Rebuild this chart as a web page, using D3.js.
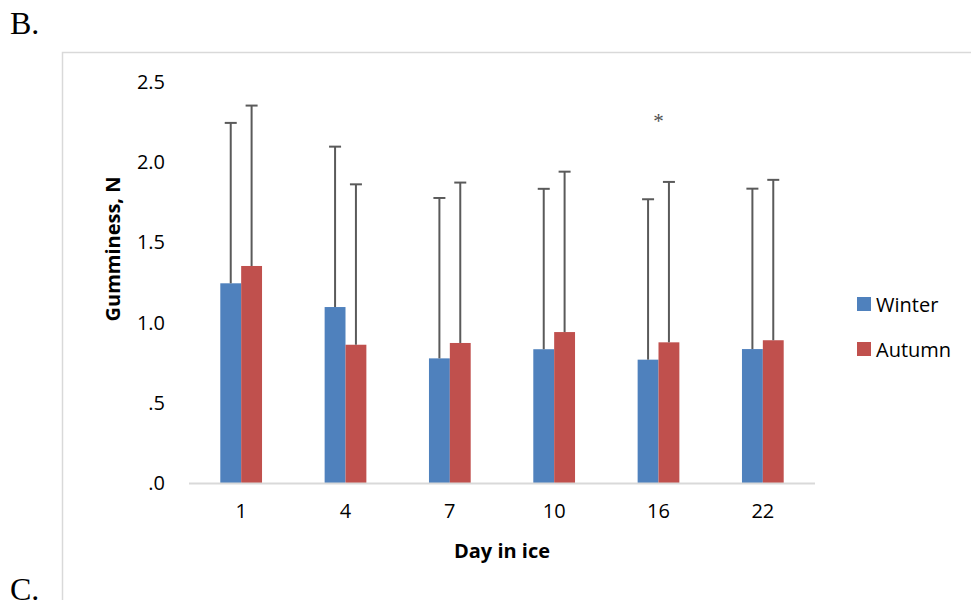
<!DOCTYPE html>
<html>
<head>
<meta charset="utf-8">
<script src="https://cdn.jsdelivr.net/npm/d3@7"></script>
<style>
  body { margin: 0; background: #fff; }
  svg { display: block; }
</style>
</head>
<body>
<svg id="chart" width="971" height="600"></svg>
<script>
// Data
const days = ['1', '4', '7', '10', '16', '22'];
const seriesNames = ['Winter', 'Autumn'];
const winter = [1.245, 1.097, 0.777, 0.834, 0.769, 0.835];
const autumn = [1.353, 0.862, 0.873, 0.941, 0.877, 0.890];
const winterErr = [1.00, 1.00, 1.00, 1.00, 1.00, 1.00];
const autumnErr = [1.00, 1.00, 1.00, 1.00, 1.00, 1.00];
const yTicks = [0, 0.5, 1.0, 1.5, 2.0, 2.5];
const yTickLabels = ['.0', '.5', '1.0', '1.5', '2.0', '2.5'];
const starDay = '16';

const colors = ['#4F81BD', '#C0504D'];
const font = '"Open Sans", "Noto Sans", sans-serif';
const fs = 20;

const svg = d3.select('#chart');

// outer frame of the chart object (runs off the page right and bottom)
svg.append('rect')
    .attr('x', 62.5).attr('y', 52.5)
    .attr('width', 1000).attr('height', 1000)
    .attr('fill', 'none')
    .attr('stroke', '#d9d9d9')
    .attr('stroke-width', 1.5);

// panel letters
svg.append('text').attr('x', 10).attr('y', 34)
    .attr('font-family', '"Liberation Serif", "DejaVu Serif", serif')
    .attr('font-size', 32).attr('fill', '#000').text('B.');
svg.append('text').attr('x', 10).attr('y', 600)
    .attr('font-family', '"Liberation Serif", "DejaVu Serif", serif')
    .attr('font-size', 32).attr('fill', '#000').text('C.');

// scales
const x = d3.scaleBand().domain(days).range([189, 815])
    .paddingInner(0.6).paddingOuter(0.3);
const xs = d3.scaleBand().domain(seriesNames).range([0, x.bandwidth()]);
const y = d3.scaleLinear().domain([0, 2.5]).range([483, 82]);

// y tick labels (no gridlines, no axis line)
const yAxis = d3.axisLeft(y).tickValues(yTicks)
    .tickFormat((d, i) => yTickLabels[i]).tickSize(0).tickPadding(0);
const gy = svg.append('g').attr('transform', 'translate(165,0)').call(yAxis);
gy.select('.domain').remove();
gy.selectAll('text').attr('font-family', font).attr('font-size', fs).attr('fill', '#000');

// bars
const rows = days.map((d, i) => ({
    day: d,
    vals: [
        { s: 'Winter', v: winter[i], e: winterErr[i], c: colors[0] },
        { s: 'Autumn', v: autumn[i], e: autumnErr[i], c: colors[1] }
    ]
}));

const groups = svg.append('g').selectAll('g').data(rows).join('g')
    .attr('transform', d => `translate(${x(d.day)},0)`);

groups.selectAll('rect').data(d => d.vals).join('rect')
    .attr('x', d => xs(d.s))
    .attr('y', d => y(d.v))
    .attr('width', xs.bandwidth())
    .attr('height', d => y(0) - y(d.v))
    .attr('fill', d => d.c);

// plus-only error bars
const errCol = '#5a5a5a';
groups.selectAll('line.err').data(d => d.vals).join('line')
    .attr('class', 'err')
    .attr('x1', d => xs(d.s) + xs.bandwidth() / 2)
    .attr('x2', d => xs(d.s) + xs.bandwidth() / 2)
    .attr('y1', d => y(d.v))
    .attr('y2', d => y(d.v + d.e))
    .attr('stroke', errCol).attr('stroke-width', 2);
groups.selectAll('line.cap').data(d => d.vals).join('line')
    .attr('class', 'cap')
    .attr('x1', d => xs(d.s) + xs.bandwidth() / 2 - 6)
    .attr('x2', d => xs(d.s) + xs.bandwidth() / 2 + 6)
    .attr('y1', d => y(d.v + d.e))
    .attr('y2', d => y(d.v + d.e))
    .attr('stroke', errCol).attr('stroke-width', 2);

// baseline + x tick labels
svg.append('line')
    .attr('x1', 189).attr('x2', 815)
    .attr('y1', y(0) + 0.5).attr('y2', y(0) + 0.5)
    .attr('stroke', '#d9d9d9').attr('stroke-width', 2);
const xAxis = d3.axisBottom(x).tickSize(0).tickPadding(0);
const gx = svg.append('g').attr('transform', `translate(0,${y(0) + 21})`).call(xAxis);
gx.select('.domain').remove();
gx.selectAll('text').attr('font-family', font).attr('font-size', fs).attr('fill', '#000');

// significance mark
svg.append('text')
    .attr('x', x(starDay) + x.bandwidth() / 2)
    .attr('y', 128)
    .attr('text-anchor', 'middle')
    .attr('font-family', '"Liberation Serif", serif')
    .attr('font-size', 21).attr('fill', '#505050')
    .text('*');

// axis titles
svg.append('text')
    .attr('transform', 'translate(120,249) rotate(-90)')
    .attr('text-anchor', 'middle')
    .attr('font-family', font).attr('font-weight', 'bold')
    .attr('font-size', fs).attr('fill', '#000')
    .text('Gumminess, N');
svg.append('text')
    .attr('x', 502).attr('y', 558)
    .attr('text-anchor', 'middle')
    .attr('font-family', font).attr('font-weight', 'bold')
    .attr('font-size', fs).attr('fill', '#000')
    .text('Day in ice');

// legend
const legend = svg.append('g').selectAll('g').data(seriesNames).join('g')
    .attr('transform', (d, i) => `translate(857,${297 + i * 45})`);
legend.append('rect').attr('width', 14).attr('height', 14)
    .attr('fill', (d, i) => colors[i]);
legend.append('text').attr('x', 19).attr('y', 14.5)
    .attr('font-family', font).attr('font-size', fs).attr('fill', '#000')
    .text(d => d);
</script>
</body>
</html>
